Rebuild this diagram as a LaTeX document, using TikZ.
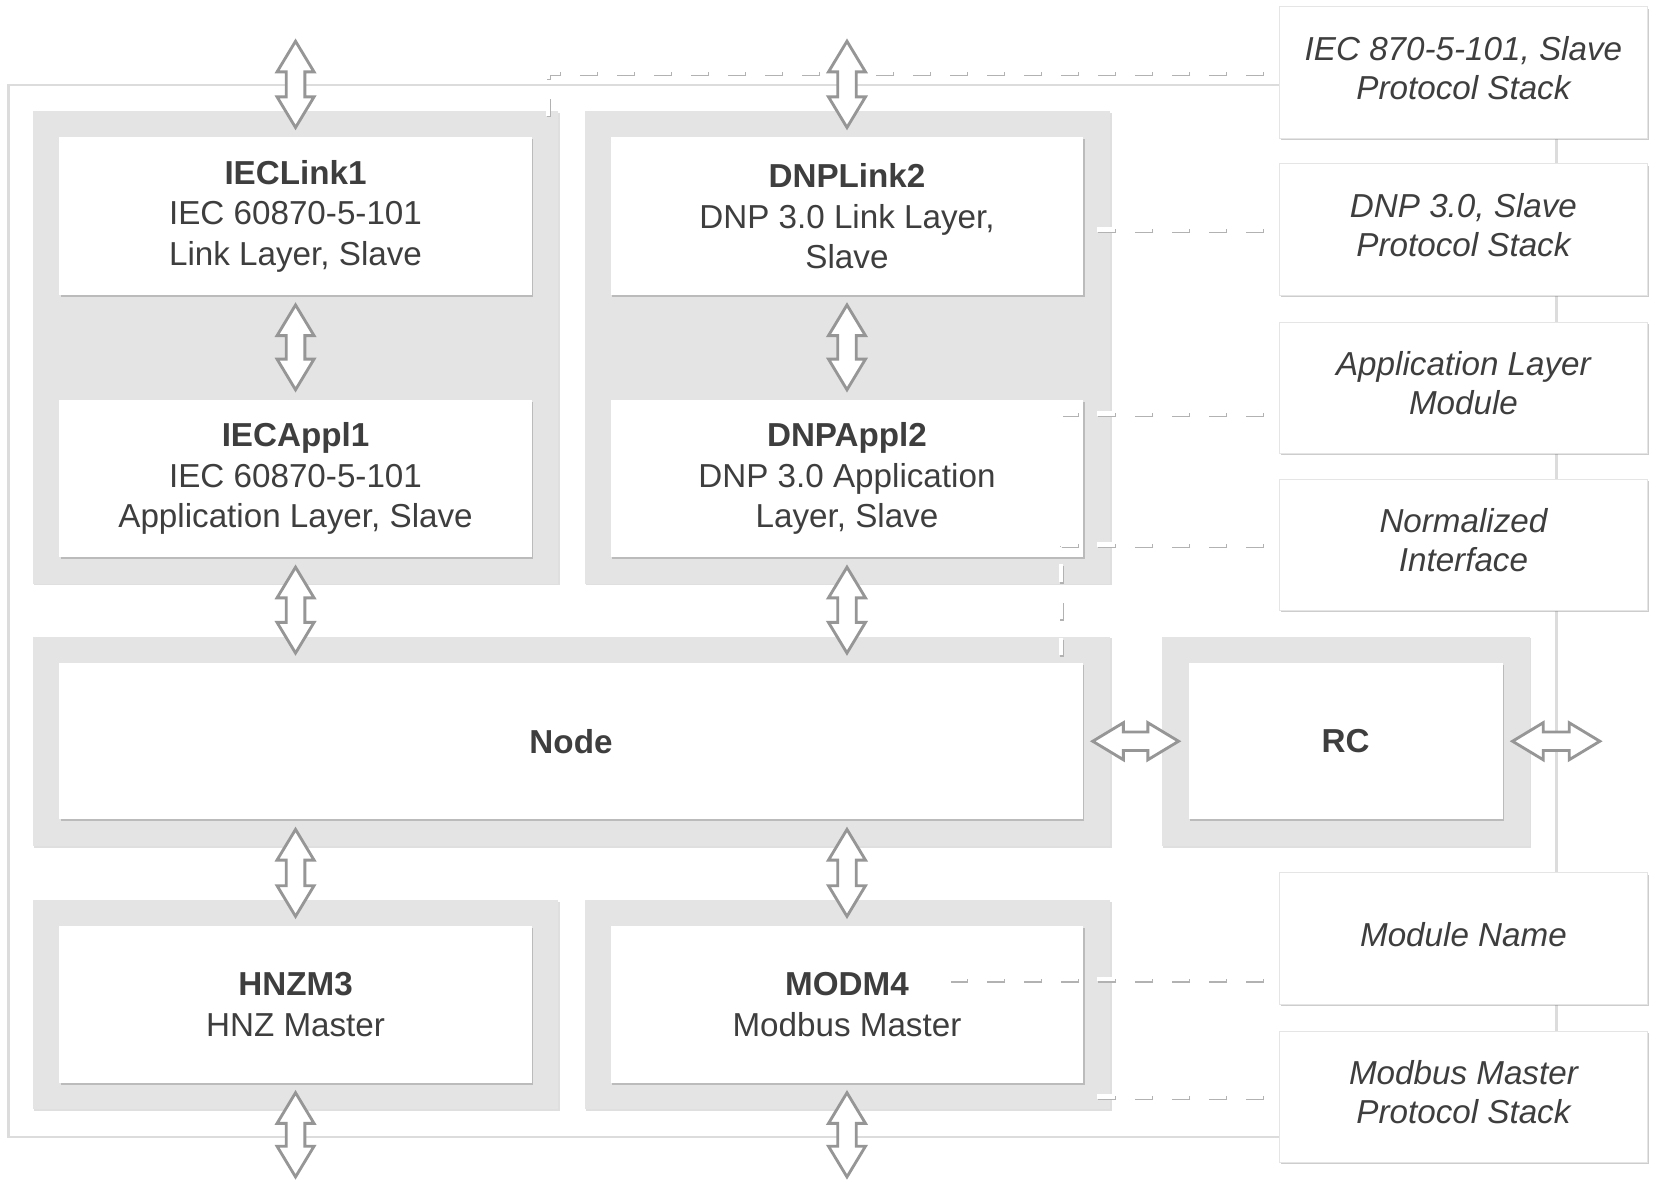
\documentclass[tikz,border=0pt]{standalone}
\usepackage{fontspec}
\setmainfont{Liberation Sans}
\usetikzlibrary{calc,shadows}
\definecolor{grp}{HTML}{E4E4E4}
\definecolor{txt}{HTML}{3E3E3E}
\definecolor{arr}{HTML}{969696}
\definecolor{frm}{HTML}{DCDCDC}
\newcommand\fatv[2]{\draw[fat] let \p1=(#1), \p2=(#2) in
 (\x1,\y1-4.5pt) -- (\x1+8.75pt,\y1-19pt) -- (\x1+4.4pt,\y1-19pt) -- (\x1+4.4pt,\y2+19pt) -- (\x1+8.75pt,\y2+19pt) -- (\x1,\y2+4.5pt) -- (\x1-8.75pt,\y2+19pt) -- (\x1-4.4pt,\y2+19pt) -- (\x1-4.4pt,\y1-19pt) -- (\x1-8.75pt,\y1-19pt) -- cycle;}
\newcommand\fath[2]{\draw[fat] let \p1=(#1), \p2=(#2) in
 (\x1+4.5pt,\y1) -- (\x1+19pt,\y1+8.75pt) -- (\x1+19pt,\y1+4.4pt) -- (\x2-19pt,\y1+4.4pt) -- (\x2-19pt,\y1+8.75pt) -- (\x2-4.5pt,\y1) -- (\x2-19pt,\y1-8.75pt) -- (\x2-19pt,\y1-4.4pt) -- (\x1+19pt,\y1-4.4pt) -- (\x1+19pt,\y1-8.75pt) -- cycle;}
\newcommand\dconn[1]{\draw[dlsh] #1; \draw[dl] #1;}
\newcommand\legtext[1]{\raisebox{1.8pt}{\begin{tabular}{@{}c@{}}#1\end{tabular}}}
\tikzset{
 grpbox/.style={fill=grp, draw=none, inner sep=0pt,
   drop shadow={shadow xshift=0.6pt, shadow yshift=-0.8pt, opacity=0.25, fill=black!50}},
 wbox/.style={fill=white, draw=none, inner sep=0pt, align=center, text=txt,
   drop shadow={shadow xshift=0.7pt, shadow yshift=-0.9pt, opacity=0.32, fill=black!60}},
 legbox/.style={fill=white, draw=black!10, line width=0.4pt, inner sep=0pt, align=center, text=txt,
   font=\fontsize{15.7}{18.5}\selectfont\itshape, minimum width=174pt, minimum height=62pt,
   drop shadow={shadow xshift=0.7pt, shadow yshift=-0.9pt, opacity=0.32, fill=black!60}},
 fat/.style={draw=arr, fill=white, line width=1.35pt, line join=miter},
 dl/.style={draw=white, line width=2pt, dash pattern=on 8.5pt off 9pt},
 dlsh/.style={draw=black!30, line width=2pt, dash pattern=on 8.5pt off 9pt,
   transform canvas={shift={(0.5pt,-0.8pt)}}},
 frmline/.style={draw=frm, line width=1pt}
}
\begin{document}
\begin{tikzpicture}[x=0.5pt, y=-0.5pt, font=\fontsize{15.7}{19}\selectfont]
\useasboundingbox[fill=white] (0,0) rectangle (1568,1119);
% outer frame
\draw[frmline] (8,80) rectangle (1472,1075);
% groups
\node[grpbox, minimum width=248.5pt, minimum height=223.5pt] (g1) at (279.5,328.5) {};
\node[grpbox, minimum width=248.5pt, minimum height=223.5pt] (g2) at (801.5,328.5) {};
\node[grpbox, minimum width=509.5pt, minimum height=99pt] (g3) at (540.5,701) {};
\node[grpbox, minimum width=174pt, minimum height=99pt] (g4) at (1273,701) {};
\node[grpbox, minimum width=248.5pt, minimum height=99pt] (g5) at (279.5,950) {};
\node[grpbox, minimum width=248.5pt, minimum height=99pt] (g6) at (801.5,950) {};
% modules
\node[wbox, minimum width=223.5pt, minimum height=74.5pt] (iecl) at (279.5,204.5) {\textbf{IECLink1}\\IEC 60870-5-101\\Link Layer, Slave};
\node[wbox, minimum width=223.5pt, minimum height=74.5pt] (ieca) at (279.5,452.5) {\textbf{IECAppl1}\\IEC 60870-5-101\\Application Layer, Slave};
\node[wbox, minimum width=223.5pt, minimum height=74.5pt] (dnpl) at (801,204.5) {\textbf{DNPLink2}\\DNP 3.0 Link Layer,\\Slave};
\node[wbox, minimum width=223.5pt, minimum height=74.5pt] (dnpa) at (801,452.5) {\textbf{DNPAppl2}\\DNP 3.0 Application\\Layer, Slave};
\node[wbox, minimum width=484pt, minimum height=74pt] (node) at (540,701) {\textbf{Node}};
\node[wbox, minimum width=148.5pt, minimum height=74pt] (rc) at (1272.5,701) {\textbf{RC}};
\node[wbox, minimum width=223.5pt, minimum height=74pt] (hnzm) at (279.5,950) {\textbf{HNZM3}\\HNZ Master};
\node[wbox, minimum width=223.5pt, minimum height=74pt] (modm) at (801,950) {\textbf{MODM4}\\Modbus Master};
% legend
\node[legbox] (leg1) at (1384,68.5) {\legtext{IEC 870-5-101, Slave\\Protocol Stack}};
\node[legbox] (leg2) at (1384,217) {\legtext{DNP 3.0, Slave\\Protocol Stack}};
\node[legbox] (leg3) at (1384,366.5) {\legtext{Application Layer\\Module}};
\node[legbox] (leg4) at (1384,515) {\legtext{Normalized\\Interface}};
\node[legbox] (leg5) at (1384,887.5) {\legtext{Module Name}};
\node[legbox] (leg6) at (1384,1037) {\legtext{Modbus Master\\Protocol Stack}};
% dashed pointers
\dconn{($(leg1.west)+(-15,0)$) -| ($(g1.north east)+(-10,5)$)}
\dconn{($(leg2.west)+(-15,0)$) -- ($(g2.east |- leg2.west)+(-13,0)$)}
\dconn{($(leg3.west)+(-15,24.5)$) -- ($(dnpa.east |- leg3.west)+(-21,24.5)$)}
\dconn{($(leg4.west)+(-15,0)$) -| ($(node.north east)+(-21,-7)$)}
\dconn{($(leg5.west)+(-15,38.5)$) -- ($(modm.center |- leg5.west)+(97,38.5)$)}
\dconn{($(leg6.west)+(-15,0)$) -- ($(g6.east |- leg6.west)+(-13,0)$)}
% arrows
\coordinate (t1) at (279.5,30);
\coordinate (t2) at (801,30);
\coordinate (b1) at (279.5,1122);
\coordinate (b2) at (801,1122);
\coordinate (r1) at (1522,701);
\fatv{t1}{iecl.north}
\fatv{iecl.south}{ieca.north}
\fatv{ieca.south}{ieca.south |- node.north}
\fatv{hnzm.north |- node.south}{hnzm.north}
\fatv{hnzm.south}{b1}
\fatv{t2}{dnpl.north}
\fatv{dnpl.south}{dnpa.north}
\fatv{dnpa.south}{dnpa.south |- node.north}
\fatv{modm.north |- node.south}{modm.north}
\fatv{modm.south}{b2}
\fath{node.east}{rc.west}
\fath{rc.east}{r1}
\end{tikzpicture}
\end{document}
